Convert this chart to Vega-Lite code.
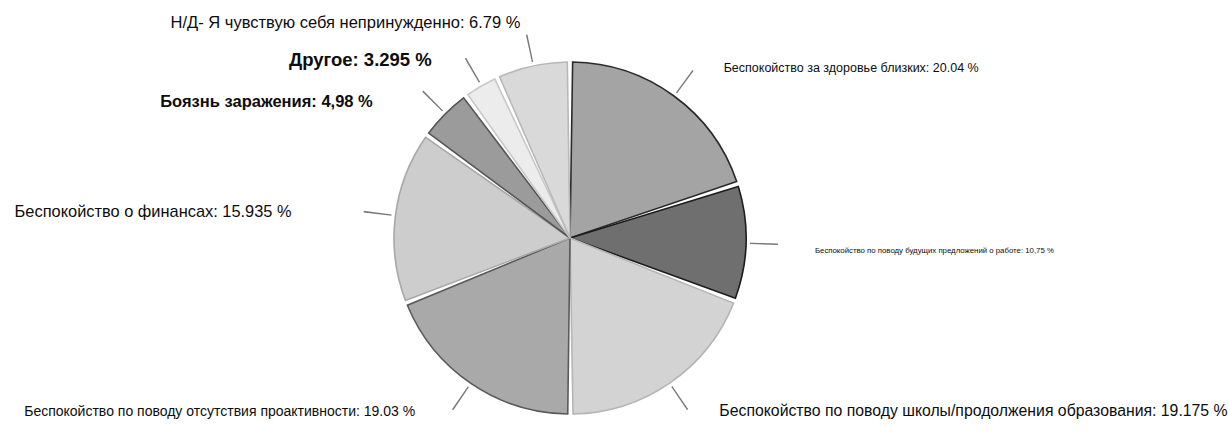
{
  "$schema": "https://vega.github.io/schema/vega-lite/v6.json",
  "width": 1140,
  "height": 394,
  "autosize": "none",
  "padding": {"left": 0, "top": 41, "right": 88, "bottom": 0},
  "background": "white",
  "config": {"view": {"stroke": null}, "text": {"font": "Liberation Sans", "color": "#0d0d0d", "baseline": "middle"}},
  "data": {
    "values": [
      {"i": 1, "category": "Беспокойство за здоровье близких", "label": "Беспокойство за здоровье близких: 20.04 %", "value": 20.04},
      {"i": 2, "category": "Беспокойство по поводу будущих предложений о работе", "label": "Беспокойство по поводу будущих предложений о работе: 10,75 %", "value": 10.75},
      {"i": 3, "category": "Беспокойство по поводу школы/продолжения образования", "label": "Беспокойство по поводу школы/продолжения образования: 19.175 %", "value": 19.175},
      {"i": 4, "category": "Беспокойство по поводу отсутствия проактивности", "label": "Беспокойство по поводу отсутствия проактивности: 19.03 %", "value": 19.03},
      {"i": 5, "category": "Беспокойство о финансах", "label": "Беспокойство о финансах: 15.935 %", "value": 15.935},
      {"i": 6, "category": "Боязнь заражения", "label": "Боязнь заражения: 4,98 %", "value": 4.98},
      {"i": 7, "category": "Другое", "label": "Другое: 3.295 %", "value": 3.295},
      {"i": 8, "category": "Н/Д- Я чувствую себя непринужденно", "label": "Н/Д- Я чувствую себя непринужденно: 6.79 %", "value": 6.79}
    ]
  },
  "transform": [
    {"window": [{"op": "sum", "field": "value", "as": "cum"}], "sort": [{"field": "i"}], "frame": [null, 0]},
    {"calculate": "datum.cum - datum.value", "as": "start"},
    {"calculate": "datum.cum - datum.value / 2", "as": "mid"},
    {"calculate": "datum.cum - datum.value / 2 + 0.12", "as": "mid2"}
  ],
  "encoding": {
    "theta": {"field": "mid", "type": "quantitative", "scale": {"domain": [0, 100], "range": [0, 6.283185307]}, "stack": null}
  },
  "layer": [
    {
      "mark": {"type": "arc", "outerRadius": 176, "padAngle": 0.03, "strokeWidth": 1.6},
      "encoding": {
        "theta": {"field": "start", "type": "quantitative", "scale": {"domain": [0, 100], "range": [0, 6.283185307]}, "stack": null},
        "theta2": {"field": "cum"},
        "fill": {"field": "category", "type": "nominal", "legend": null,
          "scale": {"domain": ["Беспокойство за здоровье близких", "Беспокойство по поводу будущих предложений о работе", "Беспокойство по поводу школы/продолжения образования", "Беспокойство по поводу отсутствия проактивности", "Беспокойство о финансах", "Боязнь заражения", "Другое", "Н/Д- Я чувствую себя непринужденно"],
                    "range": ["#a4a4a4", "#6f6f6f", "#d3d3d3", "#a9a9a9", "#cdcdcd", "#9b9b9b", "#ececec", "#d9d9d9"]}},
        "stroke": {"field": "category", "type": "nominal", "legend": null,
          "scale": {"domain": ["Беспокойство за здоровье близких", "Беспокойство по поводу будущих предложений о работе", "Беспокойство по поводу школы/продолжения образования", "Беспокойство по поводу отсутствия проактивности", "Беспокойство о финансах", "Боязнь заражения", "Другое", "Н/Д- Я чувствую себя непринужденно"],
                    "range": ["#2b2b2b", "#1c1c1c", "#b5b5b5", "#5a5a5a", "#a8a8a8", "#555555", "#c8c8c8", "#b8b8b8"]}}
      }
    },
    {
      "mark": {"type": "arc", "innerRadius": 180, "outerRadius": 208, "fill": "#7a7a7a"},
      "encoding": {"theta2": {"field": "mid2"}}
    },
    {
      "transform": [{"filter": "datum.i == 1"}],
      "mark": {"type": "text", "radius": 210, "align": "left", "dx": 30, "fontSize": 12.5},
      "encoding": {"text": {"field": "label"}}
    },
    {
      "transform": [{"filter": "datum.i == 2"}],
      "mark": {"type": "text", "radius": 210, "align": "left", "dx": 35, "dy": 8, "fontSize": 7.8},
      "encoding": {"text": {"field": "label"}}
    },
    {
      "transform": [{"filter": "datum.i == 3"}],
      "mark": {"type": "text", "radius": 210, "align": "left", "dx": 30, "fontSize": 15.8},
      "encoding": {"text": {"field": "label"}}
    },
    {
      "transform": [{"filter": "datum.i == 4"}],
      "mark": {"type": "text", "radius": 210, "align": "right", "dx": -37, "fontSize": 14},
      "encoding": {"text": {"field": "label"}}
    },
    {
      "transform": [{"filter": "datum.i == 5"}],
      "mark": {"type": "text", "radius": 210, "align": "right", "dx": -70, "fontSize": 16.4},
      "encoding": {"text": {"field": "label"}}
    },
    {
      "transform": [{"filter": "datum.i == 6"}],
      "mark": {"type": "text", "radius": 210, "align": "right", "dx": -48, "dy": 12, "fontSize": 16.5, "fontWeight": "bold"},
      "encoding": {"text": {"field": "label"}}
    },
    {
      "transform": [{"filter": "datum.i == 7"}],
      "mark": {"type": "text", "radius": 210, "align": "right", "dx": -32, "dy": 3, "fontSize": 18.5, "fontWeight": "bold"},
      "encoding": {"text": {"field": "label"}}
    },
    {
      "transform": [{"filter": "datum.i == 8"}],
      "mark": {"type": "text", "radius": 210, "align": "right", "dx": -5, "dy": -10, "fontSize": 16.5},
      "encoding": {"text": {"field": "label"}}
    }
  ]
}
